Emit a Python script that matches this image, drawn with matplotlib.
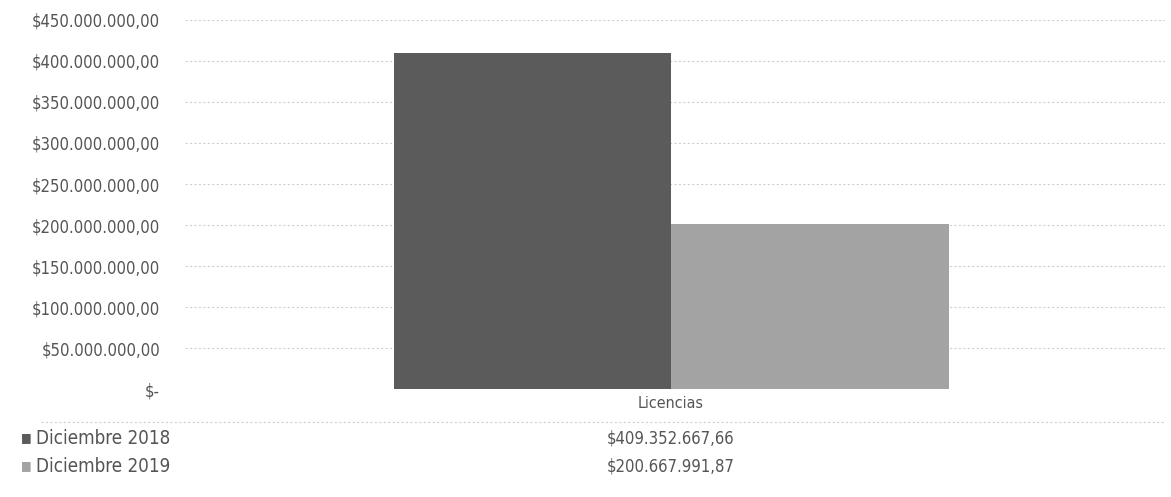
import matplotlib
matplotlib.use("Agg")
from matplotlib import pyplot as plt
from matplotlib.ticker import FuncFormatter

plt.rcParams["font.family"] = ["DejaVu Sans"]
plt.rcParams["font.stretch"] = "condensed"

category = "Licencias"
series_names = ["Diciembre 2018", "Diciembre 2019"]
series_values = [409352667.66, 200667991.87]
series_colors = ["#5b5b5b", "#a3a3a3"]
y_ticks = [0, 50e6, 100e6, 150e6, 200e6, 250e6, 300e6, 350e6, 400e6, 450e6]

text_color = "#555555"


def money(v):
    # Spanish style: thousands with ".", decimals with ","
    s = f"{v:,.2f}"
    return "$" + s.replace(",", "X").replace(".", ",").replace("X", ".")


def tick_fmt(v, pos):
    if v == 0:
        return "$-"
    return money(v)


fig = plt.figure(figsize=(11.71, 4.97), dpi=100)
ax = fig.add_axes([0.158, 0.217, 0.837, 0.743])

width = 0.283
offsets = [-width / 2, width / 2]
for name, val, off, col in zip(series_names, series_values, offsets, series_colors):
    ax.bar(off - 0.004, val, width=width, color=col, zorder=3, label=name)

ax.set_xlim(-0.5, 0.5)
ax.set_ylim(0, 450e6)
ax.set_yticks(y_ticks)
ax.yaxis.set_major_formatter(FuncFormatter(tick_fmt))
ax.tick_params(axis="y", length=0, pad=18, labelsize=12, labelcolor=text_color)
ax.set_xticks([])
ax.grid(axis="y", color="#cfcfcf", linestyle=(0, (2, 2)), linewidth=0.8, zorder=0)
for sp in ax.spines.values():
    sp.set_visible(False)

# data table under the chart
fig_h = 497.0
def fy(px):
    return 1 - px / fig_h

x_mid = 0.158 + 0.837 * 0.5 - 0.004
fig.text(x_mid, fy(404), category, ha="center", va="center",
         fontsize=11.5, color=text_color)
fig.add_artist(plt.Line2D([0.035, 0.995], [fy(422), fy(422)], color="#cfcfcf",
                          linestyle=(0, (2, 2)), linewidth=0.8))
rows_y = [438, 466]
for name, val, col, ry in zip(series_names, series_values, series_colors, rows_y):
    fig.text(0.018, fy(ry), "\u25a0", ha="left", va="center", fontsize=9,
             color=col, family="DejaVu Sans")
    fig.text(0.031, fy(ry), name, ha="left", va="center", fontsize=13.5,
             color=text_color)
    fig.text(x_mid, fy(ry), money(val), ha="center", va="center",
             fontsize=12, color=text_color)

fig.savefig("out.png", dpi=100)
